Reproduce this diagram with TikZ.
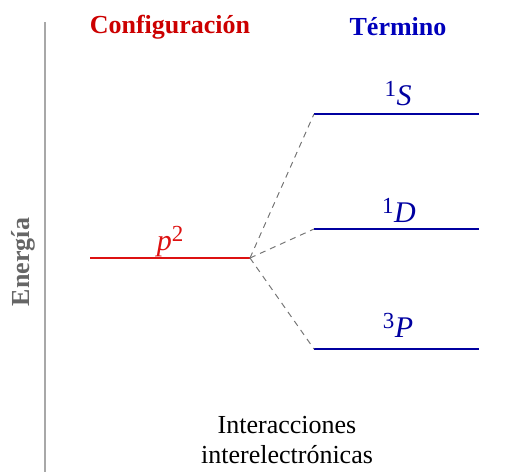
\documentclass[tikz,border=0pt]{standalone}
\usepackage{fontspec}
\setmainfont{Liberation Serif}
\definecolor{cfgred}{HTML}{CC0000}
\definecolor{lvlred}{HTML}{DD1111}
\definecolor{termblue}{HTML}{0000BB}
\definecolor{lvlblue}{HTML}{0000A0}
\definecolor{axisgray}{HTML}{A8A8A8}
\definecolor{engray}{HTML}{666666}
\definecolor{conngray}{HTML}{777777}
\newcommand{\supdig}[1]{\raisebox{9pt}{\fontsize{23}{24}\selectfont #1}}
\newcommand{\termsym}[2]{\supdig{#1}\kern0.5pt\textit{#2}}
\begin{document}
\begin{tikzpicture}[x=1pt,y=-1pt,
  lbl/.style={inner sep=0pt,anchor=base,font=\fontsize{26}{30}\selectfont},
  sym/.style={inner sep=0pt,anchor=base,font=\fontsize{30}{34}\selectfont},
  head/.style={lbl,font=\fontsize{26}{30}\selectfont\bfseries},
  redlvl/.style={draw=lvlred,line width=2pt},
  bluelvl/.style={draw=lvlblue,line width=2pt},
  conn/.style={draw=conngray,line width=1pt,dash pattern=on 6pt off 5pt}]
\useasboundingbox (0,0) rectangle (506,472);
% axis
\coordinate (axT) at (45,22);
\coordinate (axB) at (45,472);
\draw[axisgray,line width=1.5pt] (axT) -- (axB);
\node[head,text=engray,rotate=90,anchor=center] (en) at (23,262) {Energía};
% headers
\node[head,text=cfgred] (cfg) at (170,33) {Configuración};
\node[head,text=termblue] (ter) at (398,35) {Término};
% configuration level
\coordinate (pL) at (90,258);
\coordinate (pR) at (250,258);
\draw[redlvl] (pL) -- (pR);
\node[sym,text=lvlred] (p2) at (170,250) {\textit{p}\supdig{2}};
% term levels
\coordinate (sL) at (314,114); \coordinate (sR) at (479,114);
\coordinate (dL) at (314,229); \coordinate (dR) at (479,229);
\coordinate (tL) at (314,349); \coordinate (tR) at (479,349);
\draw[bluelvl] (sL) -- (sR);
\draw[bluelvl] (dL) -- (dR);
\draw[bluelvl] (tL) -- (tR);
\node[sym,text=lvlblue] (S) at (398,105) {\termsym{1}{S}};
\node[sym,text=lvlblue] (D) at (399,222) {\termsym{1}{D}};
\node[sym,text=lvlblue] (P) at (398,337) {\termsym{3}{P}};
% connectors
\draw[conn] (pR) -- (sL);
\draw[conn] (pR) -- (dL);
\draw[conn] (pR) -- (tL);
% bottom label
\node[lbl] (int1) at (287,433) {Interacciones};
\node[lbl] (int2) at (287,463) {interelectrónicas};
\end{tikzpicture}
\end{document}
